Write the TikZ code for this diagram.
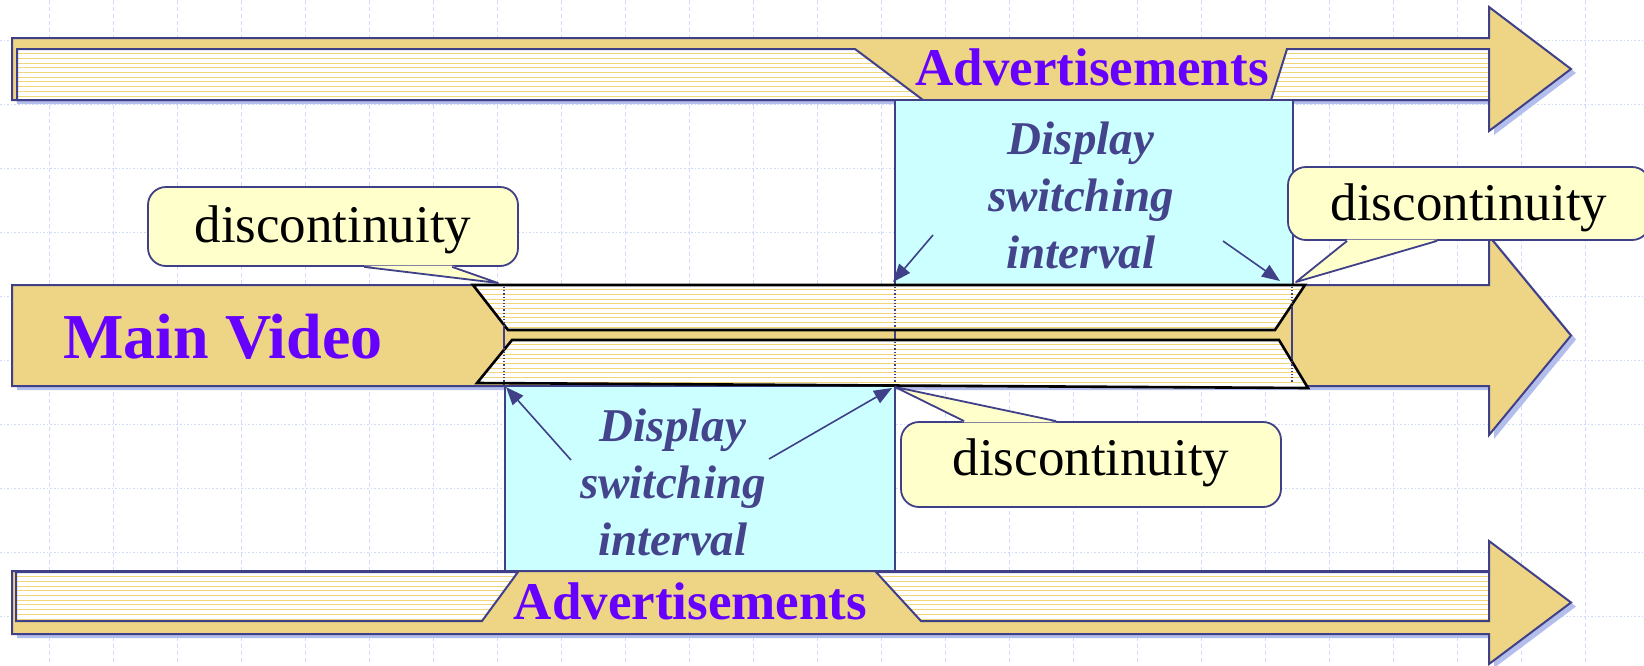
\documentclass[tikz,border=0pt]{standalone}
\usepackage{fontspec}
\setmainfont{Liberation Serif}
\usetikzlibrary{arrows.meta,shadows}
\definecolor{bandfill}{RGB}{237,213,133}
\definecolor{bandline}{RGB}{64,64,136}
\definecolor{shadowcol}{RGB}{180,190,236}
\definecolor{stripecol}{RGB}{240,214,120}
\definecolor{boxcyan}{RGB}{204,255,255}
\definecolor{callfill}{RGB}{255,255,204}
\definecolor{titlecol}{RGB}{102,0,255}
\definecolor{slatecol}{RGB}{68,68,140}
\definecolor{gridcol}{RGB}{208,219,247}

\begin{document}
\begin{tikzpicture}[x=0.5pt,y=-0.5pt,
  gridv/.style={gridcol,line width=0.5pt,dash pattern=on 2pt off 1.5pt},
  gridh/.style={gridcol,line width=0.5pt,dash pattern=on 0.8pt off 1pt},
  band/.style={fill=bandfill,draw=bandline,line width=1pt,
    drop shadow={fill=shadowcol,opacity=1,shadow xshift=2.5pt,shadow yshift=-2pt}},
  lined/.style={fill=white,draw=bandline,line width=1pt,
    path picture={\foreach \k in {1,...,30}
      \draw[stripecol,line width=0.5pt] ([yshift=-\k*2.35pt]path picture bounding box.north west)
        -- ([yshift=-\k*2.35pt]path picture bounding box.north east);}},
  cutpiece/.style={lined,draw=black,line width=1.3pt},
  slot/.style={fill=boxcyan,draw=bandline,line width=0.9pt},
  talk/.style={fill=callfill,draw=bandline,line width=0.9pt,rounded corners=9pt,
    inner sep=0pt,anchor=base,font=\fontsize{26.5}{30}\selectfont},
  tail/.style={draw=bandline,line width=0.9pt,line join=round},
  adtext/.style={font=\fontsize{26.5}{30}\selectfont\bfseries,text=titlecol,anchor=base,inner sep=0pt},
  disp/.style={font=\fontsize{23.5}{28.5}\selectfont\bfseries\itshape,text=slatecol,align=center,inner sep=0pt},
  pointarrow/.style={-{Triangle[length=9pt,width=7pt]},draw=bandline,line width=0.8pt}]
  \useasboundingbox (0,0) rectangle (1644,665);
  \clip (0,0) rectangle (1644,665);
  % background grid
  \foreach \gx in {49,113,...,1585} \draw[gridv] (\gx,0) -- (\gx,665);
  \foreach \gy in {40,104,...,616} \draw[gridh] (0,\gy) -- (1644,\gy);

  % upper advertisement stream
  \draw[band] (12,38) -- (1489,38) -- (1489,7) -- (1571,69) -- (1489,131) -- (1489,100) -- (12,100) -- cycle;
  \draw[lined] (17,49) -- (855,49) -- (923,100) -- (17,100) -- cycle;
  \draw[lined] (1287,49) -- (1489,49) -- (1489,100) -- (1271,100) -- cycle;
  \node[adtext] (adup) at (1092,85) {Advertisements};

  % lower advertisement stream
  \draw[band] (12,571) -- (1489,571) -- (1489,541) -- (1571,602.5) -- (1489,664) -- (1489,634) -- (12,634) -- cycle;
  \draw[lined] (16,572) -- (518,572) -- (482,621) -- (16,621) -- cycle;
  \draw[lined] (876,572) -- (1489,572) -- (1489,621) -- (921,621) -- cycle;
  \node[adtext] (addown) at (690.5,619) {Advertisements};

  % main stream
  \draw[band] (12,285) -- (1489,285) -- (1489,236) -- (1571,335.5) -- (1489,435) -- (1489,386) -- (12,386) -- cycle;
  \node[adtext,font=\fontsize{32}{36}\selectfont\bfseries] (mv) at (223,358) {Main Video};

  % switching intervals
  \draw[slot] (895,100) rectangle (1293,285);
  \draw[slot] (505,386) rectangle (895,571);
  \foreach \vx in {504,895,1292} \draw[bandline,line width=0.8pt] (\vx,285) -- (\vx,386);
  \draw[cutpiece] (473,285) -- (1305,285) -- (1275,330) -- (508,330) -- cycle;
  \draw[cutpiece] (512,340) -- (1279,340) -- (1308,388) -- (477,383) -- cycle;
  \foreach \vx in {504,895,1292} \draw[bandline,line width=0.6pt,densely dotted] (\vx,287) -- (\vx,328) (\vx,342) -- (\vx,383);

  \node[disp] (du) at (1081,195) {Display\\switching\\interval};
  \node[disp] (dd) at (673,482.5) {Display\\switching\\interval};
  \coordinate (a1) at (933,235);
  \coordinate (a2) at (893,282);
  \coordinate (a3) at (1223,241);
  \coordinate (a4) at (1280,281);
  \coordinate (b1) at (571,460);
  \coordinate (b2) at (506,387);
  \coordinate (b3) at (769,459);
  \coordinate (b4) at (892,388);
  \draw[pointarrow] (a1) -- (a2);
  \draw[pointarrow] (a3) -- (a4);
  \draw[pointarrow] (b1) -- (b2);
  \draw[pointarrow] (b3) -- (b4);

  % discontinuity callouts
  \node[talk,minimum width=185pt,text height=27.5pt,text depth=12pt] (L) at (333,242) {discontinuity};
  \node[talk,minimum width=181pt,text height=26.5pt,text depth=10pt] (R) at (1469,220) {discontinuity};
  \node[talk,minimum width=190pt,text height=26.5pt,text depth=16pt] (D) at (1091,475) {discontinuity};
  \coordinate (lt) at (498,283);
  \coordinate (rt) at (1296,282);
  \coordinate (dt) at (895,387);
  \fill[callfill] ([xshift=108.5pt,yshift=0.6pt]L.south west) -- (lt) -- ([xshift=152.5pt,yshift=0.6pt]L.south west) -- cycle;
  \draw[tail] ([xshift=108.5pt]L.south west) -- (lt) -- ([xshift=152.5pt]L.south west);
  \fill[callfill] ([xshift=30pt,yshift=0.6pt]R.south west) -- (rt) -- ([xshift=75pt,yshift=0.6pt]R.south west) -- cycle;
  \draw[tail] ([xshift=30pt]R.south west) -- (rt) -- ([xshift=75pt]R.south west);
  \fill[callfill] ([xshift=32pt,yshift=-0.6pt]D.north west) -- (dt) -- ([xshift=78pt,yshift=-0.6pt]D.north west) -- cycle;
  \draw[tail] ([xshift=32pt]D.north west) -- (dt) -- ([xshift=78pt]D.north west);
\end{tikzpicture}
\end{document}
